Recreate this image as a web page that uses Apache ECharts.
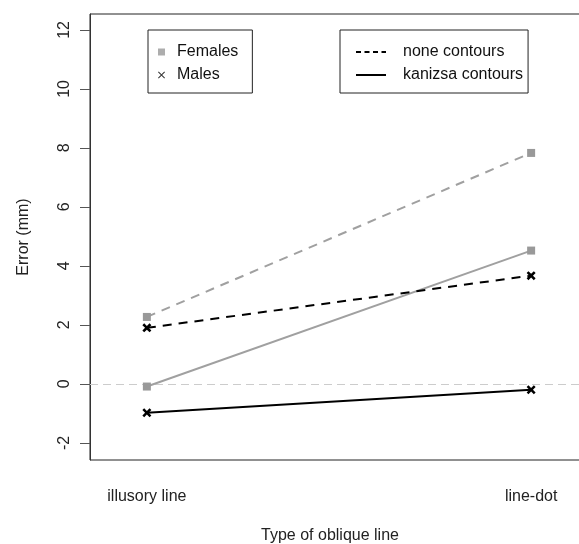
<!DOCTYPE html>
<html>
<head>
<meta charset="utf-8">
<script src="https://cdn.jsdelivr.net/npm/echarts@6/dist/echarts.min.js"></script>
<style>html,body{margin:0;padding:0;background:#fff}#c{width:579px;height:544px}</style>
</head>
<body>
<div id="c"></div>
<script>
var categories = ['illusory line', 'line-dot'];
var femalesNone = [2.27, 7.83];
var femalesKanizsa = [-0.09, 4.52];
var malesNone = [1.9, 3.67];
var malesKanizsa = [-0.98, -0.2];
var yTicks = [-2, 0, 2, 4, 6, 8, 10, 12];
var xTicks = [1, 2];

var FONT = 'Liberation Sans, Arial, sans-serif';
var GRAY = '#a0a0a0';
var CROSS_BOLD = 'path://M0,2 L2,0 L5,3 L8,0 L10,2 L7,5 L10,8 L8,10 L5,7 L2,10 L0,8 L3,5 Z';
var CROSS_THIN = 'path://M0,1 L1,0 L5,4 L9,0 L10,1 L6,5 L10,9 L9,10 L5,6 L1,10 L0,9 L4,5 Z';

function pts(arr) { return arr.map(function (v, i) { return [xTicks[i], v]; }); }

function lineSeries(name, arr, color, dashed, female) {
  return {
    name: name, type: 'line', data: pts(arr),
    symbol: female ? 'rect' : CROSS_BOLD,
    symbolSize: female ? 8 : 9,
    itemStyle: { color: female ? '#999999' : '#000' },
    lineStyle: { color: color, width: 2, type: dashed ? [9, 7] : 'solid' },
    z: 3, animation: false
  };
}

var series = [
  lineSeries('fn', femalesNone, GRAY, true, true),
  lineSeries('fk', femalesKanizsa, GRAY, false, true),
  lineSeries('mn', malesNone, '#000', true, false),
  lineSeries('mk', malesKanizsa, '#000', false, false),
  { name: 'Females', type: 'scatter', data: [], symbol: 'rect', itemStyle: { color: '#999999' } },
  { name: 'Males', type: 'scatter', data: [], symbol: CROSS_THIN, itemStyle: { color: '#000' } },
  { name: 'none contours', type: 'line', data: [], symbol: 'none', showSymbol: false, itemStyle: { color: '#000' }, lineStyle: { color: '#000', width: 1, type: [5, 3.5] } },
  { name: 'kanizsa contours', type: 'line', data: [], symbol: 'none', showSymbol: false, itemStyle: { color: '#000' }, lineStyle: { color: '#000', width: 1 } }
];
series[0].markLine = {
  silent: true, symbol: 'none', animation: false, label: { show: false },
  lineStyle: { color: '#cccccc', width: 1, type: [8, 5] },
  data: [{ yAxis: 0 }], z: 1
};

var chart = echarts.init(document.getElementById('c'), null, { renderer: 'canvas' });
chart.setOption({
  animation: false,
  backgroundColor: '#fff',
  textStyle: { fontFamily: FONT },
  grid: { left: 90, top: 14, right: -9, bottom: 84, show: true, borderColor: '#222', borderWidth: 1, containLabel: false, outerBoundsMode: 'none' },
  xAxis: {
    type: 'value', min: 0.852, max: 2.148,
    name: 'Type of oblique line', nameLocation: 'middle', nameGap: 68,
    nameTextStyle: { fontSize: 16, color: '#222', fontFamily: FONT, padding: [0, 18, 0, 0] },
    axisLine: { show: false }, axisTick: { show: false }, splitLine: { show: false },
    axisLabel: {
      customValues: xTicks, margin: 29, fontSize: 16, color: '#222', fontFamily: FONT,
      formatter: function (v) { return categories[Math.round(v) - 1]; }
    }
  },
  yAxis: {
    type: 'value', min: -2.58, max: 12.54,
    name: 'Error (mm)', nameLocation: 'middle', nameGap: 58,
    nameTextStyle: { fontSize: 16, color: '#222', fontFamily: FONT },
    axisLine: { show: true, lineStyle: { color: '#333', width: 1 } },
    axisTick: { show: true, customValues: yTicks, length: 10, lineStyle: { color: '#555', width: 1 } },
    splitLine: { show: false },
    axisLabel: { customValues: yTicks, rotate: 90, margin: 17, fontSize: 16, color: '#222', fontFamily: FONT }
  },
  legend: [
    {
      data: [
        { name: 'Females', icon: 'rect', itemStyle: { color: '#999999' } },
        { name: 'Males', icon: CROSS_THIN, itemStyle: { color: '#000' } }
      ],
      orient: 'vertical', left: 148, top: 30,
      padding: [14, 14, 10, 10], itemGap: 7, itemWidth: 7, itemHeight: 7,
      borderColor: '#222', borderWidth: 1, selectedMode: false,
      textStyle: { fontSize: 16, color: '#111', fontFamily: FONT, lineHeight: 16, padding: [0, 0, 0, 7] }
    },
    {
      data: [
        { name: 'none contours', itemStyle: { opacity: 0 } },
        { name: 'kanizsa contours', itemStyle: { opacity: 0 } }
      ],
      orient: 'vertical', left: 340, top: 30,
      padding: [14, 5, 10, 15], itemGap: 7, itemWidth: 30, itemHeight: 8,
      borderColor: '#222', borderWidth: 1, selectedMode: false,
      textStyle: { fontSize: 16, color: '#111', fontFamily: FONT, lineHeight: 16, padding: [0, 0, 0, 12] }
    }
  ],
  series: series
});
</script>
</body>
</html>
